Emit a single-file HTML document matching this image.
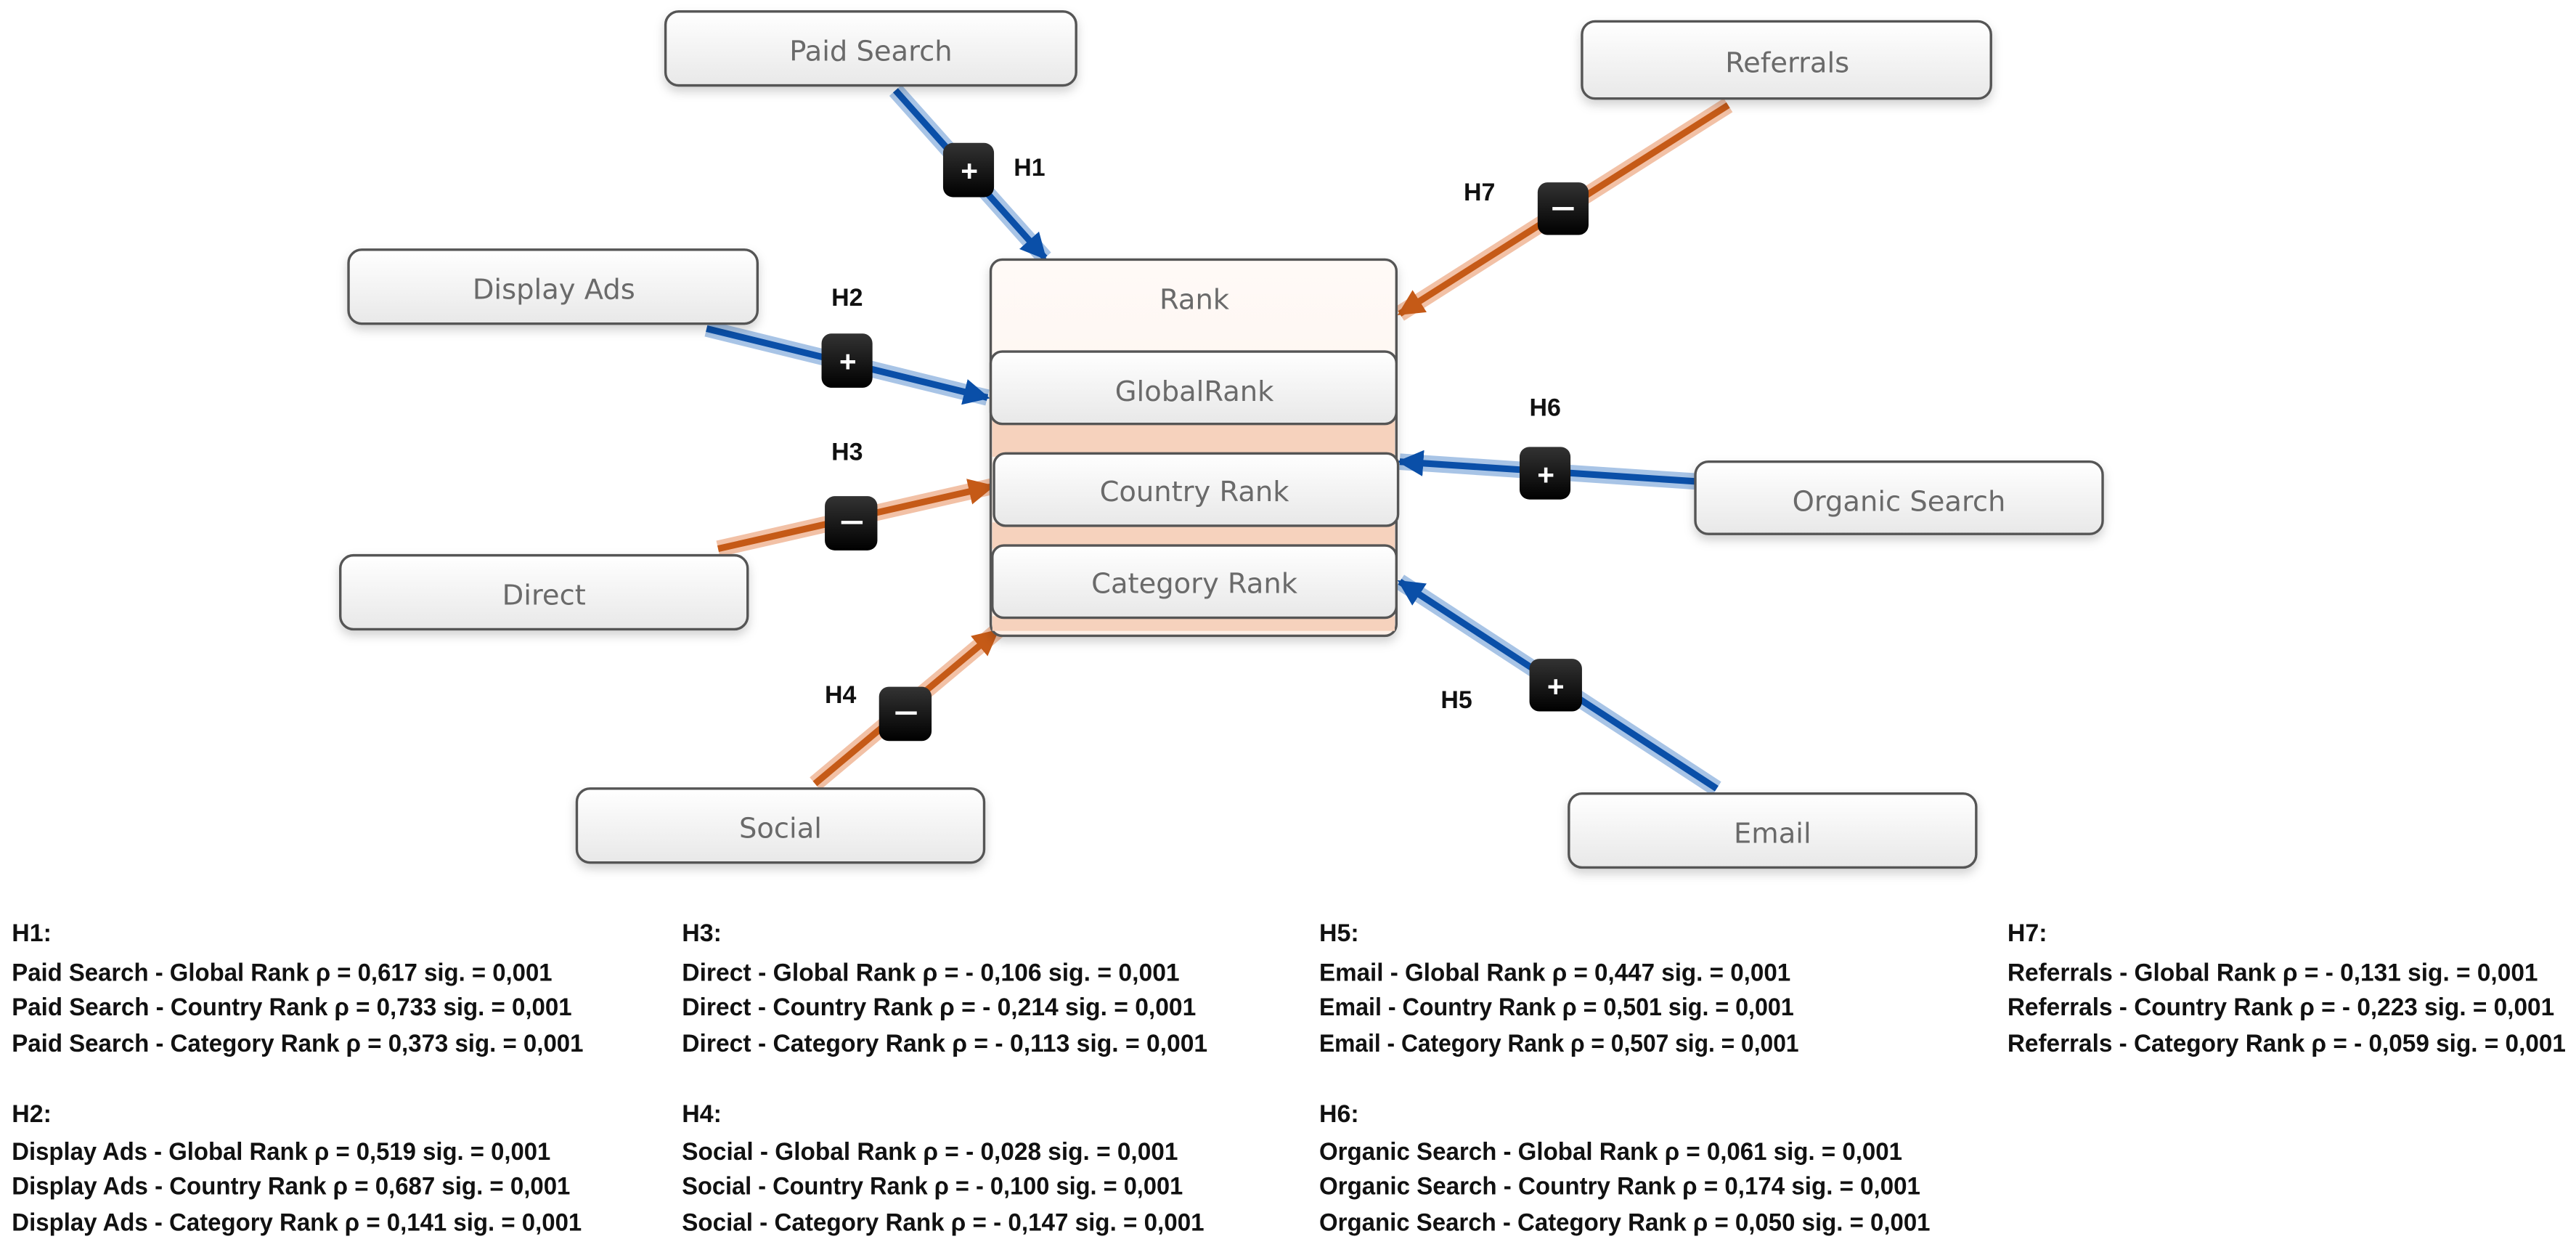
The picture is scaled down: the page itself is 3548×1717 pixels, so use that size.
<!DOCTYPE html>
<html><head><meta charset="utf-8">
<style>
html,body{margin:0;padding:0;background:#fff;}
svg{display:block;}
.n{font-family:"DejaVu Sans","Liberation Sans",sans-serif;font-size:17px;fill:#6a6a6a;text-anchor:middle;}
.h{font-family:"Liberation Sans",sans-serif;font-weight:bold;font-size:15px;fill:#111;}
.t{font-family:"Liberation Sans",sans-serif;font-weight:bold;font-size:15px;fill:#111;}
.b{font-family:"Liberation Sans",sans-serif;font-weight:bold;font-size:18px;fill:#fff;text-anchor:middle;}
</style></head>
<body>
<svg width="3548" height="1717" viewBox="0 0 1568 759" xmlns="http://www.w3.org/2000/svg">
<defs>
<linearGradient id="g" x1="0" y1="0" x2="0" y2="1"><stop offset="0" stop-color="#ffffff"/><stop offset="1" stop-color="#e8e8e8"/></linearGradient>
<linearGradient id="pk" x1="0" y1="0" x2="0" y2="1"><stop offset="0" stop-color="#fffaf7"/><stop offset="1" stop-color="#fcefe6"/></linearGradient>
<linearGradient id="bk" x1="0" y1="0" x2="0" y2="1"><stop offset="0" stop-color="#333"/><stop offset="1" stop-color="#000"/></linearGradient>
<filter id="sh" x="-10%" y="-20%" width="120%" height="150%"><feDropShadow dx="0" dy="3" stdDeviation="3" flood-color="#000" flood-opacity="0.18"/></filter>
<marker id="ab" viewBox="0 0 10 10" refX="9" refY="5" markerWidth="4" markerHeight="4" orient="auto" markerUnits="strokeWidth"><path d="M0,0 L10,5 L0,10 z" fill="#0a4fa8"/></marker>
<marker id="ao" viewBox="0 0 10 10" refX="9" refY="5" markerWidth="4" markerHeight="4" orient="auto" markerUnits="strokeWidth"><path d="M0,0 L10,5 L0,10 z" fill="#c55a17"/></marker>
</defs>

<g stroke-linecap="butt">
<line x1="545" y1="55" x2="636" y2="157" stroke="#a8c4e6" stroke-width="10"/>
<line x1="545" y1="55" x2="636" y2="157" stroke="#0a4fa8" stroke-width="4" marker-end="url(#ab)"/>
<line x1="1052" y1="64" x2="852" y2="191" stroke="#f2c1a6" stroke-width="10"/>
<line x1="1052" y1="64" x2="852" y2="191" stroke="#c55a17" stroke-width="4" marker-end="url(#ao)"/>
<line x1="430" y1="200" x2="601" y2="242" stroke="#a8c4e6" stroke-width="10"/>
<line x1="430" y1="200" x2="601" y2="242" stroke="#0a4fa8" stroke-width="4" marker-end="url(#ab)"/>
<line x1="437" y1="334" x2="604" y2="296" stroke="#f2c1a6" stroke-width="10"/>
<line x1="437" y1="334" x2="604" y2="296" stroke="#c55a17" stroke-width="4" marker-end="url(#ao)"/>
<line x1="496" y1="477" x2="607" y2="384" stroke="#f2c1a6" stroke-width="10"/>
<line x1="496" y1="477" x2="607" y2="384" stroke="#c55a17" stroke-width="4" marker-end="url(#ao)"/>
<line x1="1032" y1="293" x2="852" y2="281" stroke="#a8c4e6" stroke-width="10"/>
<line x1="1032" y1="293" x2="852" y2="281" stroke="#0a4fa8" stroke-width="4" marker-end="url(#ab)"/>
<line x1="1045" y1="480" x2="852" y2="354" stroke="#a8c4e6" stroke-width="10"/>
<line x1="1045" y1="480" x2="852" y2="354" stroke="#0a4fa8" stroke-width="4" marker-end="url(#ab)"/>
</g>

<g filter="url(#sh)" stroke="#555" stroke-width="1.5" fill="url(#g)">
<rect x="405" y="7" width="250" height="45" rx="8"/>
<rect x="963" y="13" width="249" height="47" rx="8"/>
<rect x="212" y="152" width="249" height="45" rx="8"/>
<rect x="207" y="338" width="248" height="45" rx="8"/>
<rect x="351" y="480" width="248" height="45" rx="8"/>
<rect x="955" y="483" width="248" height="45" rx="8"/>
<rect x="1032" y="281" width="248" height="44" rx="8"/>
</g>
<text class="n" x="530" y="37">Paid Search</text>
<text class="n" x="1088" y="44">Referrals</text>
<text class="n" x="337" y="182">Display Ads</text>
<text class="n" x="331" y="368">Direct</text>
<text class="n" x="475" y="510">Social</text>
<text class="n" x="1079" y="513">Email</text>
<text class="n" x="1156" y="311">Organic Search</text>

<rect x="603" y="158" width="247" height="229" rx="7" fill="url(#pk)" stroke="#555" stroke-width="1.5" filter="url(#sh)"/>
<rect x="604" y="256" width="245" height="22" fill="#f6d2bd"/>
<rect x="604" y="318" width="245" height="16" fill="#f6d2bd"/>
<rect x="604" y="375" width="245" height="9" fill="#f6d2bd"/>
<text class="n" x="727" y="188">Rank</text>
<g stroke="#555" stroke-width="1.5" fill="url(#g)">
<rect x="603" y="214" width="247" height="44" rx="7"/>
<rect x="605" y="276" width="246" height="44" rx="7"/>
<rect x="604" y="332" width="246" height="44" rx="7"/>
</g>
<text class="n" x="727" y="244">GlobalRank</text>
<text class="n" x="727" y="305">Country Rank</text>
<text class="n" x="727" y="361">Category Rank</text>

<g fill="url(#bk)">
<rect x="574" y="87" width="31" height="33" rx="6"/>
<rect x="936" y="111" width="31" height="32" rx="6"/>
<rect x="500" y="203" width="31" height="33" rx="6"/>
<rect x="502" y="302" width="32" height="33" rx="6"/>
<rect x="535" y="418" width="32" height="33" rx="6"/>
<rect x="925" y="272" width="31" height="32" rx="6"/>
<rect x="931" y="401" width="32" height="32" rx="6"/>
</g>
<g fill="#fff">
<text class="b" x="590" y="110">+</text>
<rect x="945" y="126" width="13" height="2"/>
<text class="b" x="516" y="226">+</text>
<rect x="512" y="317" width="13" height="2"/>
<rect x="545" y="433" width="13" height="2"/>
<text class="b" x="941" y="295">+</text>
<text class="b" x="947" y="424">+</text>
</g>

<text class="h" x="617" y="107">H1</text>
<text class="h" x="891" y="122">H7</text>
<text class="h" x="506" y="186">H2</text>
<text class="h" x="506" y="280">H3</text>
<text class="h" x="502" y="428">H4</text>
<text class="h" x="931" y="253">H6</text>
<text class="h" x="877" y="431">H5</text>

<g class="t">
<text x="7" y="573">H1:</text>
<text x="7" y="597" textLength="329" lengthAdjust="spacingAndGlyphs">Paid Search - Global Rank ρ = 0,617 sig. = 0,001</text>
<text x="7" y="618" textLength="341" lengthAdjust="spacingAndGlyphs">Paid Search - Country Rank ρ = 0,733 sig. = 0,001</text>
<text x="7" y="640" textLength="348" lengthAdjust="spacingAndGlyphs">Paid Search - Category Rank ρ = 0,373 sig. = 0,001</text>
<text x="7" y="683">H2:</text>
<text x="7" y="706" textLength="328" lengthAdjust="spacingAndGlyphs">Display Ads - Global Rank ρ = 0,519 sig. = 0,001</text>
<text x="7" y="727" textLength="340" lengthAdjust="spacingAndGlyphs">Display Ads - Country Rank ρ = 0,687 sig. = 0,001</text>
<text x="7" y="749" textLength="347" lengthAdjust="spacingAndGlyphs">Display Ads - Category Rank ρ = 0,141 sig. = 0,001</text>

<text x="415" y="573">H3:</text>
<text x="415" y="597" textLength="303" lengthAdjust="spacingAndGlyphs">Direct - Global Rank ρ = - 0,106 sig. = 0,001</text>
<text x="415" y="618" textLength="313" lengthAdjust="spacingAndGlyphs">Direct - Country Rank ρ = - 0,214 sig. = 0,001</text>
<text x="415" y="640" textLength="320" lengthAdjust="spacingAndGlyphs">Direct - Category Rank ρ = - 0,113 sig. = 0,001</text>
<text x="415" y="683">H4:</text>
<text x="415" y="706" textLength="302" lengthAdjust="spacingAndGlyphs">Social - Global Rank ρ = - 0,028 sig. = 0,001</text>
<text x="415" y="727" textLength="305" lengthAdjust="spacingAndGlyphs">Social - Country Rank ρ = - 0,100 sig. = 0,001</text>
<text x="415" y="749" textLength="318" lengthAdjust="spacingAndGlyphs">Social - Category Rank ρ = - 0,147 sig. = 0,001</text>

<text x="803" y="573">H5:</text>
<text x="803" y="597" textLength="287" lengthAdjust="spacingAndGlyphs">Email - Global Rank ρ = 0,447 sig. = 0,001</text>
<text x="803" y="618" textLength="289" lengthAdjust="spacingAndGlyphs">Email - Country Rank ρ = 0,501 sig. = 0,001</text>
<text x="803" y="640" textLength="292" lengthAdjust="spacingAndGlyphs">Email - Category Rank ρ = 0,507 sig. = 0,001</text>
<text x="803" y="683">H6:</text>
<text x="803" y="706" textLength="355" lengthAdjust="spacingAndGlyphs">Organic Search - Global Rank ρ = 0,061 sig. = 0,001</text>
<text x="803" y="727" textLength="366" lengthAdjust="spacingAndGlyphs">Organic Search - Country Rank ρ = 0,174 sig. = 0,001</text>
<text x="803" y="749" textLength="372" lengthAdjust="spacingAndGlyphs">Organic Search - Category Rank ρ = 0,050 sig. = 0,001</text>

<text x="1222" y="573">H7:</text>
<text x="1222" y="597" textLength="323" lengthAdjust="spacingAndGlyphs">Referrals - Global Rank ρ = - 0,131 sig. = 0,001</text>
<text x="1222" y="618" textLength="333" lengthAdjust="spacingAndGlyphs">Referrals - Country Rank ρ = - 0,223 sig. = 0,001</text>
<text x="1222" y="640" textLength="340" lengthAdjust="spacingAndGlyphs">Referrals - Category Rank ρ = - 0,059 sig. = 0,001</text>
</g>
</svg>
</body></html>
